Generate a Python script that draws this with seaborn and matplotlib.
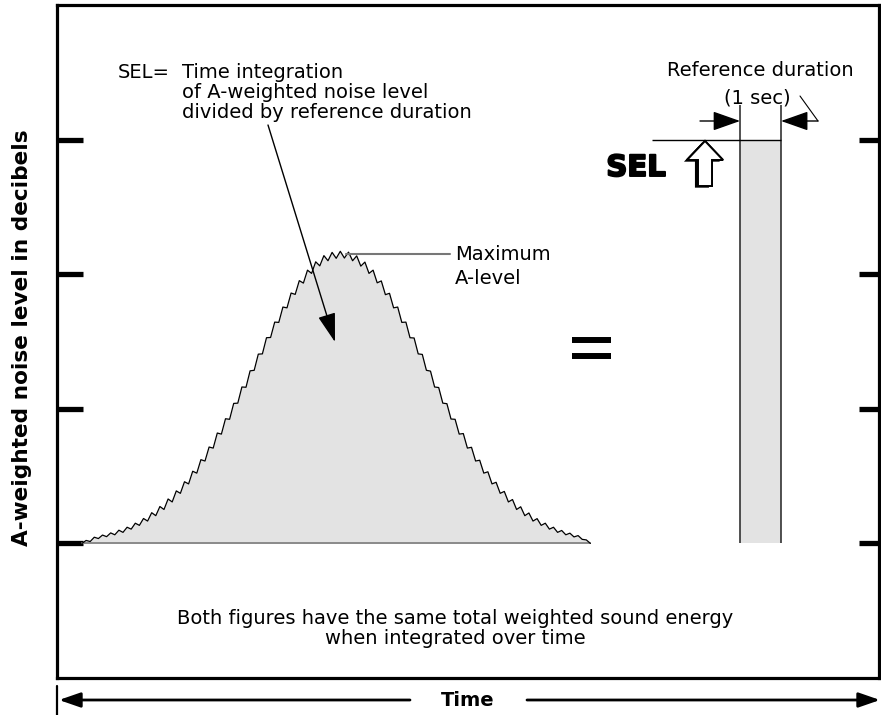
import numpy as np
import pandas as pd
import matplotlib
matplotlib.use("Agg")
import matplotlib.pyplot as plt
import matplotlib.patheffects as pe
from matplotlib.patches import FancyArrow
from matplotlib.lines import Line2D
import seaborn as sns

# ---------------- data ----------------
time_s = np.round(np.arange(0, 12.45, 0.1), 1)          # sample times of the noise event (s)
excess_db = [                                             # level above background
    0.00, 0.22, 0.14, 0.46, 0.36, 0.62, 0.50, 0.78, 0.64, 0.98,
    0.82, 1.20, 1.06, 1.50, 1.34, 1.85, 1.66, 2.28, 2.06, 2.74,
    2.52, 3.30, 3.08, 3.90, 3.72, 4.58, 4.42, 5.36, 5.22, 6.22,
    6.12, 7.16, 7.08, 8.20, 8.12, 9.26, 9.22, 10.40, 10.42, 11.62,
    11.60, 12.82, 12.86, 14.06, 14.08, 15.28, 15.30, 16.44, 16.42, 17.56,
    17.50, 18.60, 18.50, 19.52, 19.34, 20.30, 20.06, 20.92, 20.62, 21.38,
    21.00, 21.62, 21.18, 21.70,
    21.20, 21.64, 21.00, 21.36, 20.60, 20.90,
    20.06, 20.30, 19.36, 19.50, 18.48, 18.58, 17.50, 17.56, 16.42, 16.44,
    15.28, 15.26, 14.08, 14.04, 12.86, 12.80, 11.62, 11.58, 10.42, 10.38,
    9.24, 9.22, 8.12, 8.16, 7.08, 7.14, 6.12, 6.18, 5.22, 5.32,
    4.42, 4.54, 3.72, 3.86, 3.08, 3.26, 2.52, 2.72, 2.06, 2.26,
    1.66, 1.84, 1.34, 1.50, 1.06, 1.20, 0.82, 0.96, 0.64, 0.76,
    0.48, 0.58, 0.30, 0.26, 0.00,
]
BACKGROUND_DB = 40.0
LMAX_DB = 61.5
SEL_DB = 70.0
REF_START_S = 16.05
REF_DURATION_S = 1.0
level_ticks = [40, 50, 60, 70]

ylabel_text = "A-weighted noise level in decibels"
xlabel_text = "Time"
sel_def_lines = ["Time integration", "of A-weighted noise level", "divided by reference duration"]
max_lines = ["Maximum", "A-level"]
ref_lines = ["Reference duration", "(1 sec)"]
bottom_lines = ["Both figures have the same total weighted sound energy",
                "when integrated over time"]

df = pd.DataFrame({"time": time_s, "level": BACKGROUND_DB + np.array(excess_db)})

# ---------------- style ----------------
sns.set_theme(style="white")
plt.rcParams["font.family"] = ["DejaVu Sans"]
plt.rcParams["axes.edgecolor"] = "black"
plt.rcParams["text.color"] = "black"

W, H = 881, 715
fig = plt.figure(figsize=(W / 100, H / 100), dpi=100)
fig.patch.set_facecolor("white")

# axes frame in pixel positions (layout only)
L, R, T, B = 57, 879, 5, 678
ax = fig.add_axes([L / W, 1 - B / H, (R - L) / W, (B - T) / H])

PX0, PX_PER_S = 82.0, 41.0
def tx(px):
    return (px - PX0) / PX_PER_S
YMIN, YMAX = 30.0, 80.0
def dby(py):
    return YMAX - (py - T) / (B - T) * (YMAX - YMIN)
def fp(px, py):
    return (px, H - py)

ax.set_xlim(tx(L), tx(R))
ax.set_ylim(YMIN, YMAX)
for s in ax.spines.values():
    s.set_linewidth(2.3)
    s.set_color("black")

GREY = "#e3e3e3"

# noise event curve
ax.fill_between(df["time"], BACKGROUND_DB, df["level"], color=GREY, lw=0, zorder=1)
sns.lineplot(data=df, x="time", y="level", ax=ax, color="black", lw=0.9, zorder=3)
ax.plot([df["time"].iloc[0], df["time"].iloc[-1]], [BACKGROUND_DB, BACKGROUND_DB],
        color="#8a8a8a", lw=1.4, zorder=2)

# equivalent 1-second rectangle
ax.bar(REF_START_S, SEL_DB - BACKGROUND_DB, width=REF_DURATION_S, bottom=BACKGROUND_DB,
       align="edge", color=GREY, lw=0, zorder=1)
ax.vlines([REF_START_S, REF_START_S + REF_DURATION_S], BACKGROUND_DB, dby(105),
          color="#222222", lw=1.1, zorder=3)
ax.hlines(SEL_DB, tx(652), REF_START_S + REF_DURATION_S, color="black", lw=1.0, zorder=3)

# dimension arrows
dim_y = dby(121)
ax.annotate("", xy=(REF_START_S, dim_y), xytext=(tx(700), dim_y),
            arrowprops=dict(arrowstyle="-|>,head_length=1.7,head_width=0.6",
                            mutation_scale=10, lw=1.0, color="black",
                            shrinkA=0, shrinkB=0))
ax.annotate("", xy=(REF_START_S + REF_DURATION_S, dim_y), xytext=(tx(818), dim_y),
            arrowprops=dict(arrowstyle="-|>,head_length=1.7,head_width=0.6",
                            mutation_scale=10, lw=1.0, color="black",
                            shrinkA=0, shrinkB=0))
ax.plot([tx(800), tx(818)], [dby(96), dby(121)], color="black", lw=0.8)

# hollow SEL arrow
arr = FancyArrow(tx(705), dby(186), 0, dby(141) - dby(186), width=14 / PX_PER_S,
                 head_width=36 / PX_PER_S, head_length=dby(141) - dby(160),
                 length_includes_head=True, fc="white", ec="black", lw=1.4, zorder=4)
arr.set_path_effects([pe.withSimplePatchShadow(offset=(-2.2, -1.2), shadow_rgbFace="black",
                                               alpha=1.0), pe.Normal()])
ax.add_patch(arr)
ax.text(*fp(636, 168), "SEL", transform=None, fontsize=21, fontweight="bold",
        ha="center", va="center", color="black",
        path_effects=[pe.withStroke(linewidth=1.4, foreground="black")])

# equals sign
for py in (340, 356):
    ax.plot([tx(572), tx(611)], [dby(py), dby(py)], color="black", lw=4.3,
            solid_capstyle="butt")

# ticks (inside, left and right)
ax.set_yticks(level_ticks)
ax.set_yticklabels([])
ax.set_xticks([])
ax.tick_params(axis="y", direction="in", length=18.7, width=3.8, color="black",
               left=True, right=False)
ax2 = ax.twinx()
ax2.set_ylim(YMIN, YMAX)
ax2.set_yticks(level_ticks)
ax2.set_yticklabels([])
ax2.tick_params(axis="y", direction="in", length=14.5, width=3.8, color="black",
                right=True, left=False)
for s in ax2.spines.values():
    s.set_visible(False)
ax2.grid(False)
ax.grid(False)
ax.set_xlabel("")
ax.set_ylabel("")

FS = 14
# SEL definition text
ax.text(*fp(118, 73), "SEL=", transform=None, fontsize=FS, ha="left", va="center")
for i, line in enumerate(sel_def_lines):
    ax.text(*fp(182, 73 + 20 * i), line, transform=None, fontsize=FS, ha="left", va="center")
ax.annotate("", xy=fp(335, 342), xycoords="figure pixels",
            xytext=fp(268, 125), textcoords="figure pixels",
            arrowprops=dict(arrowstyle="-|>,head_length=1.8,head_width=0.55",
                            mutation_scale=10, lw=1.0, color="black",
                            shrinkA=0, shrinkB=0))

# maximum level label
ax.plot([tx(346), tx(450)], [LMAX_DB, LMAX_DB], color="#777777", lw=1.5, zorder=3)
for i, line in enumerate(max_lines):
    ax.text(*fp(455, 254 + 24 * i), line, transform=None, fontsize=FS, ha="left", va="center")

# reference duration label
ax.text(*fp(760, 70), ref_lines[0], transform=None, fontsize=FS, ha="center", va="center")
ax.text(*fp(757, 98), ref_lines[1], transform=None, fontsize=FS, ha="center", va="center")

# bottom caption
for i, line in enumerate(bottom_lines):
    ax.text(*fp(455, 618 + 21 * i), line, transform=None, fontsize=FS, ha="center", va="center")

# y label
fig.text(22 / W, 1 - 338 / H, ylabel_text, rotation=90, fontsize=15.6, fontweight="bold",
         ha="center", va="center", color="black")

# time arrow under the frame
fig.add_artist(Line2D([L / W, L / W], [0, 1 - 686 / H], transform=fig.transFigure,
                      color="black", lw=1.6))
ta = dict(arrowstyle="-|>,head_length=1.3,head_width=0.45", mutation_scale=10,
          lw=2.0, color="black", shrinkA=0, shrinkB=0)
ax.annotate("", xy=fp(59, 700), xycoords="figure pixels", xytext=fp(410, 700),
            textcoords="figure pixels", arrowprops=ta, annotation_clip=False)
ax.annotate("", xy=fp(880, 700), xycoords="figure pixels", xytext=fp(527, 700),
            textcoords="figure pixels", arrowprops=ta, annotation_clip=False)
fig.text(468 / W, 1 - 700 / H, xlabel_text, fontsize=14, fontweight="bold",
         ha="center", va="center", color="black")

fig.savefig("out.png", dpi=100, facecolor="white")
